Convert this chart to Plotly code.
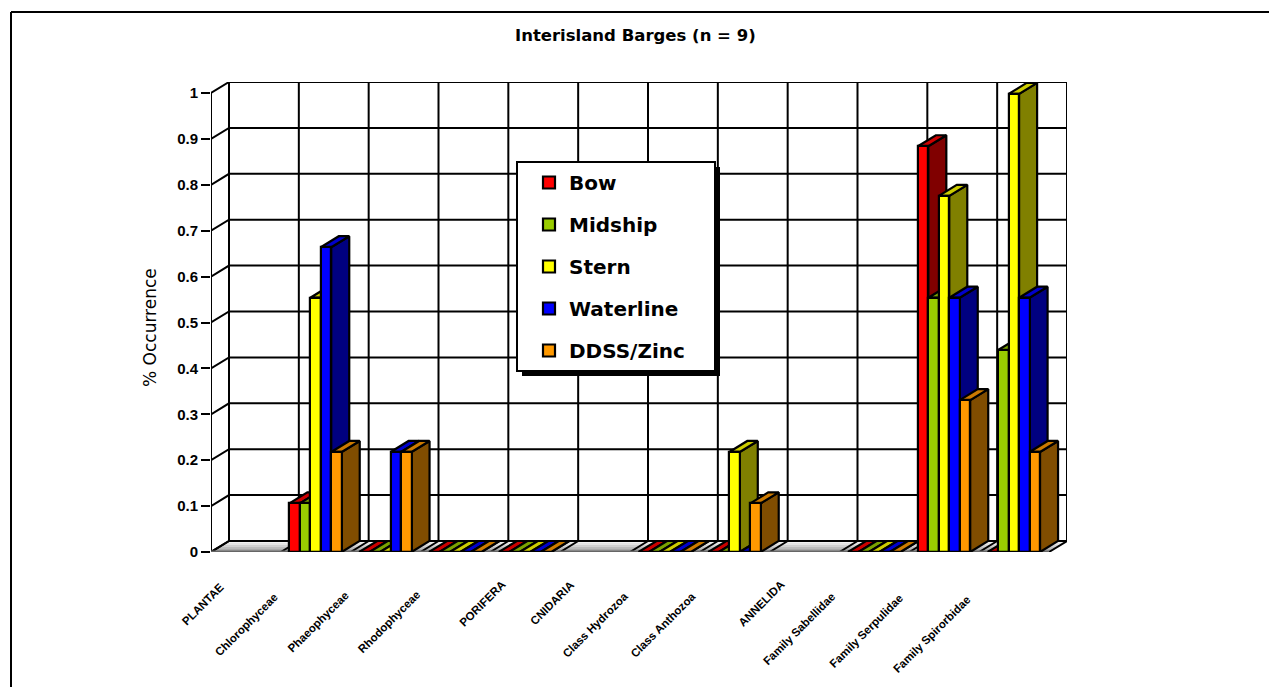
import plotly.graph_objects as go

categories = ["PLANTAE", "Chlorophyceae", "Phaeophyceae", "Rhodophyceae", "PORIFERA", "CNIDARIA",
              "Class Hydrozoa", "Class Anthozoa", "ANNELIDA", "Family Sabellidae",
              "Family Serpulidae", "Family Spirorbidae"]
bow       = [None, 0.106, 0, 0, 0, None, 0, 0, None, 0, 0.884, 0]
midship   = [None, 0.106, 0, 0, 0, None, 0, 0, None, 0, 0.554, 0.44]
stern     = [None, 0.554, 0, 0, 0, None, 0, 0.218, None, 0, 0.776, 0.998]
waterline = [None, 0.664, 0.218, 0, 0, None, 0, 0, None, 0, 0.554, 0.554]
ddss_zinc = [None, 0.218, 0.218, 0, 0, None, 0, 0.106, None, 0, 0.331, 0.218]
y_ticks = [0, 0.1, 0.2, 0.3, 0.4, 0.5, 0.6, 0.7, 0.8, 0.9, 1]
y_tick_text = ["0", "0.1", "0.2", "0.3", "0.4", "0.5", "0.6", "0.7", "0.8", "0.9", "1"]

series = [
    ("Bow", bow, "#FF0000", "#800000", "#CC0000"),
    ("Midship", midship, "#99CC00", "#668000", "#7AA300"),
    ("Stern", stern, "#FFFF00", "#808000", "#CCCC00"),
    ("Waterline", waterline, "#0000FF", "#000080", "#0000CC"),
    ("DDSS/Zinc", ddss_zinc, "#FF9900", "#804D00", "#CC7A00"),
]

# page geometry
W, H = 1269, 687
L, R, T, B = 211, 202, 82, 135
PX_X, PX_Y = 69.83, 459.0
DX, DY = 18 / PX_X, 11 / PX_Y
BAR_W, PAD = 0.15, 0.122
N = len(categories)


def px(x, y):
    return (x - L) / (W - L - R), 1 - (y - T) / (H - T - B)


# centre of each rotated category label, page pixels
label_centres = [(203, 604), (246, 625), (318, 622), (389, 622), (482, 604), (552, 603),
                 (595, 625), (663, 625), (761, 604), (799, 629), (866, 631), (932, 634)]

fig = go.Figure()
common = dict(mode="lines", hoverinfo="skip", showlegend=False, cliponaxis=False)

# floor gradient
floor_cols = ["#F4F4F4", "#E4E4E4", "#D0D0D0", "#BCBCBC", "#A8A8A8", "#949494"]
for k, col in enumerate(floor_cols):
    f0, f1 = 1 - k / len(floor_cols), 1 - (k + 1) / len(floor_cols)
    fig.add_trace(go.Scatter(
        x=[f0 * DX, N + f0 * DX, N + f1 * DX, f1 * DX, f0 * DX],
        y=[f0 * DY, f0 * DY, f1 * DY, f1 * DY, f0 * DY],
        fill="toself", fillcolor=col, line=dict(width=0), zorder=0, **common))

# walls and grid
gx, gy = [], []
for v in y_ticks:
    gx += [0, DX, N + DX, None]
    gy += [v, v + DY, v + DY, None]
for i in range(N + 1):
    gx += [i, i + DX, i + DX, None]
    gy += [0, DY, 1 + DY, None]
gx += [0, 0, None]
gy += [0, 1, None]
fig.add_trace(go.Scatter(x=gx, y=gy, line=dict(color="black", width=2), zorder=1, **common))
fig.add_trace(go.Scatter(x=[0, N], y=[0, 0], line=dict(color="#666666", width=3), zorder=1, **common))

# bars: side and top faces from the values, front faces as bars
z = 2
for s, (name, vals, front, side, top) in enumerate(series):
    sx, sy, tx, ty, bx, by = [], [], [], [], [], []
    for c, v in enumerate(vals):
        if v is None:
            continue
        x0 = c + PAD + s * BAR_W
        x1 = x0 + BAR_W
        sx += [x1, x1 + DX, x1 + DX, x1, x1, None]
        sy += [0, DY, v + DY, v, 0, None]
        tx += [x0, x0 + DX, x1 + DX, x1, x0, None]
        ty += [v, v + DY, v + DY, v, v, None]
        bx.append((x0 + x1) / 2)
        by.append(v)
    line = dict(color="black", width=2.2)
    fig.add_trace(go.Scatter(x=sx, y=sy, fill="toself", fillcolor=side, line=line,
                             legendgroup=name, zorder=z, **common))
    fig.add_trace(go.Scatter(x=tx, y=ty, fill="toself", fillcolor=top, line=line,
                             legendgroup=name, zorder=z, **common))
    fig.add_trace(go.Bar(x=bx, y=by, width=BAR_W, name=name, legendgroup=name, zorder=z + 1,
                         marker=dict(color=front, line=dict(color="black", width=2.2)),
                         cliponaxis=False, hoverinfo="skip"))
    z += 2

annotations = []
for name, (cx, cy) in zip(categories, label_centres):
    ax, ay = px(cx, cy)
    annotations.append(dict(text=name, x=ax, y=ay, xref="paper", yref="paper", showarrow=False,
                            textangle=-45, xanchor="center", yanchor="middle",
                            font=dict(family="Liberation Sans", size=11.5,
                                      weight="bold", color="black")))
ax, ay = px(635, 36)
annotations.append(dict(text="Interisland Barges (n = 9)", x=ax, y=ay, xref="paper", yref="paper",
                        showarrow=False, xanchor="center", yanchor="middle",
                        font=dict(family="DejaVu Sans", size=16.5, weight="bold", color="black")))
ax, ay = px(150, 328)
annotations.append(dict(text="% Occurrence", x=ax, y=ay, xref="paper", yref="paper", showarrow=False,
                        textangle=-90, xanchor="center", yanchor="middle",
                        font=dict(family="DejaVu Sans", size=17, color="black")))


def rect(x0, y0, x1, y1, **kw):
    a, b = px(x0, y0)
    c, d = px(x1, y1)
    return dict(type="rect", xref="paper", yref="paper", x0=a, y0=b, x1=c, y1=d, layer="above", **kw)


def seg(x0, y0, x1, y1):
    a, b = px(x0, y0)
    c, d = px(x1, y1)
    return dict(type="line", xref="paper", yref="paper", x0=a, y0=b, x1=c, y1=d,
                line=dict(color="black", width=2))


shapes = [
    seg(11, 12, W, 12),
    seg(11, 12, 11, H),
    rect(522, 167, 720, 376, fillcolor="black", line=dict(width=0)),
    rect(517, 162, 715, 371, fillcolor="white", line=dict(color="black", width=2)),
]

lx, ly = px(529, 163)
fig.update_layout(
    width=W, height=H, autosize=False,
    margin=dict(l=L, r=R, t=T, b=B, pad=0),
    paper_bgcolor="white", plot_bgcolor="white",
    barmode="overlay", bargap=0,
    xaxis=dict(range=[0, N + DX], showgrid=False, zeroline=False, showticklabels=False,
               ticks="", showline=False, fixedrange=True),
    yaxis=dict(range=[0, 1 + DY], showgrid=False, zeroline=False, showline=False,
               tickmode="array", tickvals=y_ticks, ticktext=y_tick_text, ticks="outside",
               ticklen=9, tickwidth=2, tickcolor="black", fixedrange=True,
               tickfont=dict(family="Liberation Sans", size=15, weight="bold", color="black")),
    legend=dict(x=lx, y=ly, xanchor="left", yanchor="top", bgcolor="rgba(0,0,0,0)", borderwidth=0,
                traceorder="grouped", tracegroupgap=13,
                font=dict(family="DejaVu Sans", size=20, weight="bold", color="black")),
    showlegend=True,
    annotations=annotations,
    shapes=shapes,
)

fig.write_html("out.html", config={"displayModeBar": False},
               post_script="document.body.style.margin='0';document.body.style.overflow='hidden';")
